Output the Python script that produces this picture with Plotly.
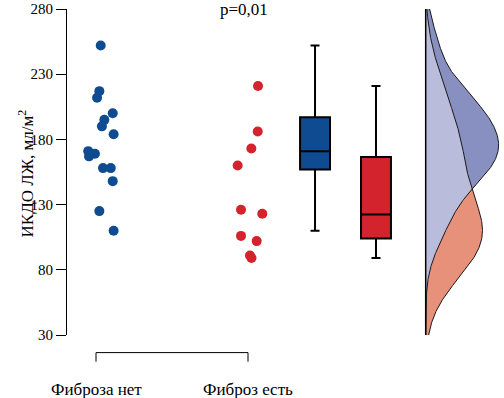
import numpy as np
import plotly.graph_objects as go

# ---------------- data ----------------
categories = ["Фиброза нет", "Фиброз есть"]

no_fibrosis = [252, 217, 212, 200, 195, 190, 184, 171, 169, 167, 158, 158, 148, 125, 110]
no_fibrosis_jitter = [0.031, 0.022, 0.007, 0.110, 0.055, 0.039, 0.116, -0.051, -0.007,
                      -0.046, 0.046, 0.097, 0.110, 0.022, 0.116]

fibrosis = [221, 186, 173, 160, 126, 123, 106, 102, 91, 89]
fibrosis_jitter = [0.066, 0.064, 0.022, -0.068, -0.046, 0.094, -0.046, 0.057, 0.013, 0.023]

# box statistics: q1, median, q3, lower whisker, upper whisker
box_no_fibrosis = [157, 171, 197, 110, 252]
box_fibrosis = [104, 122.5, 166.5, 89, 221]

y_ticks = [30, 80, 130, 180, 230, 280]
p_text = "p=0,01"
y_title = "ИКДО ЛЖ, мл/м<sup>2</sup>"

# ---------------- style ----------------
BLUE = "#0e4b91"
RED = "#d3232c"
DENS_BLUE = "#8790c0"
DENS_RED = "#e8917a"
DENS_OVERLAP = "#b9bddb"
FONT = "Liberation Serif, Times New Roman, serif"

pos_points = [0, 1]
pos_box = [1.441, 1.842]
base_x = 2.169
dens_peak = 0.48


def kde(vals, grid):
    v = np.asarray(vals, float)
    bw = v.std(ddof=1) * len(v) ** (-0.2)
    z = (grid[:, None] - v[None, :]) / bw
    return np.exp(-0.5 * z ** 2).sum(1) / (len(v) * bw * np.sqrt(2 * np.pi))


grid = np.linspace(30, 280, 500)
d_blue = kde(no_fibrosis, grid)
d_red = kde(fibrosis, grid)
k = dens_peak / d_blue.max()
d_min = np.minimum(d_blue, d_red)

fig = go.Figure()


def dens_poly(d, color):
    xs = np.concatenate([base_x + k * d, [base_x, base_x]])
    ys = np.concatenate([grid, [280, 30]])
    fig.add_trace(go.Scatter(x=xs, y=ys, mode="lines", fill="toself", fillcolor=color,
                             line=dict(width=0), hoverinfo="skip", showlegend=False))


dens_poly(d_blue, DENS_BLUE)
dens_poly(d_red, DENS_RED)
dens_poly(d_min, DENS_OVERLAP)
for d in (d_blue, d_red):
    fig.add_trace(go.Scatter(x=base_x + k * d, y=grid, mode="lines",
                             line=dict(color="#1a1a1a", width=1), hoverinfo="skip",
                             showlegend=False))
fig.add_trace(go.Scatter(x=[base_x, base_x], y=[30, 280], mode="lines",
                         line=dict(color="black", width=1.5), showlegend=False))

# boxes
for pos, st, col in ((pos_box[0], box_no_fibrosis, BLUE), (pos_box[1], box_fibrosis, RED)):
    fig.add_trace(go.Box(x=[pos], q1=[st[0]], median=[st[1]], q3=[st[2]],
                         lowerfence=[st[3]], upperfence=[st[4]],
                         fillcolor=col, line=dict(color="black", width=2),
                         width=0.197, whiskerwidth=0.3, showlegend=False))

# points
for pos, vals, jit, col in ((pos_points[0], no_fibrosis, no_fibrosis_jitter, BLUE),
                            (pos_points[1], fibrosis, fibrosis_jitter, RED)):
    fig.add_trace(go.Scatter(x=[pos + j for j in jit], y=vals, mode="markers",
                             marker=dict(color=col, size=10, line=dict(width=0)),
                             cliponaxis=False, showlegend=False))

# bracket under categories
for x0, y0, x1, y1 in ((pos_points[0], -0.082, pos_points[0], -0.054),
                       (pos_points[0], -0.054, pos_points[1], -0.054),
                       (pos_points[1], -0.054, pos_points[1], -0.082)):
    fig.add_shape(type="line", x0=x0, y0=y0, x1=x1, y1=y1, xref="x", yref="paper",
                  line=dict(color="black", width=1))

for pos, lab in zip(pos_points, categories):
    fig.add_annotation(x=pos, y=-0.168, xref="x", yref="paper", text=lab, showarrow=False,
                       font=dict(family=FONT, size=17, color="black"), yanchor="middle")

fig.add_annotation(x=0.975, y=1.0, xref="x", yref="paper", text=p_text, showarrow=False,
                   font=dict(family=FONT, size=17, color="black"), yanchor="middle")

fig.add_annotation(x=-0.124, y=0.495, xref="paper", yref="paper", text=y_title, showarrow=False,
                   textangle=-90, font=dict(family=FONT, size=17, color="black"))

fig.update_layout(
    width=504, height=398,
    margin=dict(l=67, r=0, t=9, b=63),
    paper_bgcolor="white", plot_bgcolor="white",
    font=dict(family=FONT, color="black"),
    xaxis=dict(range=[-0.1908, 2.6842], visible=False),
    yaxis=dict(range=[30, 280], tickvals=y_ticks, showgrid=False, zeroline=False,
               showline=True, linecolor="black", linewidth=1,
               ticks="outside", ticklen=10, tickcolor="black", tickwidth=1,
               tickfont=dict(family=FONT, size=15, color="black")),
    showlegend=False,
)

fig.write_html("out.html", config={"displayModeBar": False},
               post_script="document.body.style.margin='0px';document.body.style.overflow='hidden';")
